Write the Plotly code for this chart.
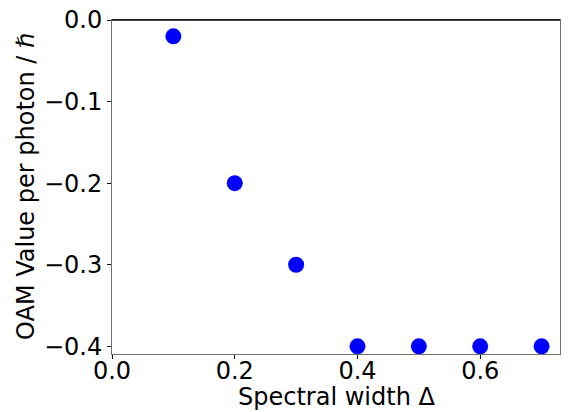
import plotly.graph_objects as go

# Spectral width values and the measured OAM per photon
spectral_width = [0.1, 0.2, 0.3, 0.4, 0.5, 0.6, 0.7]
oam_per_photon = [-0.02, -0.2, -0.3, -0.4, -0.4, -0.4, -0.4]

x_ticks = [0.0, 0.2, 0.4, 0.6]
y_ticks = [0.0, -0.1, -0.2, -0.3, -0.4]

font_family = "DejaVu Sans, sans-serif"
font_size = 24
title_font = dict(family=font_family, size=font_size, color="black")

fig = go.Figure(
    go.Scatter(
        x=spectral_width,
        y=oam_per_photon,
        mode="markers",
        marker=dict(color="#0000ff", size=16, line=dict(width=0)),
        showlegend=False,
    )
)

axis_common = dict(
    showgrid=False,
    zeroline=False,
    showline=True,
    linecolor="#707070",
    linewidth=1,
    mirror=True,
    ticks="outside",
    ticklen=4,
    tickwidth=1,
    tickcolor="black",
    tickfont=dict(family=font_family, size=font_size, color="black"),
    automargin=False,
)

fig.update_xaxes(
    range=[0.0, 0.73],
    tickvals=x_ticks,
    ticktext=[f"{v:.1f}" for v in x_ticks],
    ticklabelstandoff=-9,
    **axis_common,
)
fig.update_yaxes(
    range=[-0.4094, 0.0],
    tickvals=y_ticks,
    ticktext=[("\u2212" if v < 0 else "") + f"{abs(v):.1f}" for v in y_ticks],
    **axis_common,
)

# axis titles placed as annotations relative to the plot frame
fig.add_annotation(
    text="Spectral width Δ", xref="paper", yref="paper",
    x=0.5, y=0, yshift=-43, xanchor="center", yanchor="middle",
    showarrow=False, font=title_font,
)
fig.add_annotation(
    text="OAM Value per photon / ℏ", xref="paper", yref="paper",
    x=0, y=0.5, xshift=-86, xanchor="center", yanchor="middle",
    textangle=-90, showarrow=False, font=title_font,
)

# darker top edge of the frame
fig.add_shape(
    type="line", xref="paper", yref="paper",
    x0=0, x1=1, y0=1, y1=1,
    line=dict(color="black", width=1.5),
)

fig.update_layout(
    width=570,
    height=412,
    margin=dict(l=112, r=10, t=20, b=58),
    paper_bgcolor="white",
    plot_bgcolor="white",
    font=dict(family=font_family, color="black"),
)

fig.write_html("out.html")
